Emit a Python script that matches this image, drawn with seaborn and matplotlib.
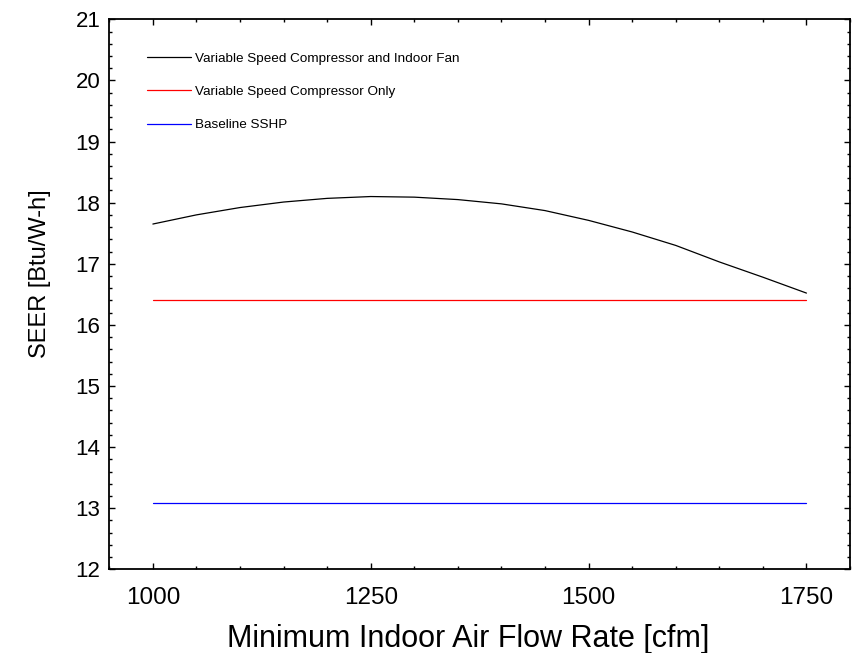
import matplotlib
matplotlib.use("Agg")
import matplotlib.pyplot as plt
from matplotlib.ticker import MultipleLocator
import seaborn as sns
import pandas as pd
import numpy as np

# ---- data ----
flow = [1000, 1050, 1100, 1150, 1200, 1250, 1300, 1350, 1400, 1450,
        1500, 1550, 1600, 1650, 1700, 1750]
seer_vs_fan = [17.65, 17.80, 17.92, 18.01, 18.07, 18.10, 18.09, 18.05, 17.98, 17.87,
               17.71, 17.52, 17.30, 17.03, 16.78, 16.52]
seer_vs_only = [16.41] * 16
seer_base = [13.08] * 16
series_names = ["Variable Speed Compressor and Indoor Fan",
                "Variable Speed Compressor Only",
                "Baseline SSHP"]
colors = ["#000000", "#ff0000", "#0000ff"]
xticks = [1000, 1250, 1500, 1750]
yticks = list(range(12, 22))

df = pd.DataFrame({
    "flow": flow * 3,
    "seer": seer_vs_fan + seer_vs_only + seer_base,
    "series": [series_names[0]] * 16 + [series_names[1]] * 16 + [series_names[2]] * 16,
})

sns.set_theme(style="white")
plt.rcParams["font.family"] = ["Liberation Sans", "DejaVu Sans"]
plt.rcParams["text.color"] = "black"
plt.rcParams["axes.labelcolor"] = "black"
plt.rcParams["xtick.color"] = "black"
plt.rcParams["ytick.color"] = "black"

fig = plt.figure(figsize=(8.58, 6.53), dpi=100)
ax = fig.add_axes([0.1274, 0.1282, 0.8633, 0.8422])

sns.lineplot(data=df, x="flow", y="seer", hue="series", hue_order=series_names,
             palette=dict(zip(series_names, colors)), linewidth=0.9, ax=ax,
             legend=True)

ax.set_xlim(950, 1800)
ax.set_ylim(12, 21)
ax.set_xticks(xticks)
ax.set_yticks(yticks)
ax.xaxis.set_minor_locator(MultipleLocator(50))
ax.yaxis.set_minor_locator(MultipleLocator(0.2))
ax.tick_params(which="both", direction="in", top=True, right=True, bottom=True, left=True,
               color="black", width=1.0, labelcolor="black")
ax.tick_params(which="major", length=4.3)
ax.tick_params(which="minor", length=2.5)
ax.tick_params(axis="x", which="major", labelsize=17.5, pad=12.5)
ax.tick_params(axis="y", which="major", labelsize=16, pad=6.5)
for s in ax.spines.values():
    s.set_color("black")
    s.set_linewidth(1.3)

ax.set_xlabel("Minimum Indoor Air Flow Rate [cfm]", fontsize=22, color="black")
ax.set_ylabel("SEER [Btu/W-h]", fontsize=17, color="black")
ax.xaxis.set_label_coords(0.484, -0.099)
ax.yaxis.set_label_coords(-0.079, 0.537)

leg = ax.legend(loc="upper left", bbox_to_anchor=(0.0507, 0.940), frameon=False,
                fontsize=9.7, handlelength=3.3, handletextpad=0.3,
                labelspacing=1.55, borderpad=0, borderaxespad=0)
for line in leg.get_lines():
    line.set_linewidth(0.9)
for t in leg.get_texts():
    t.set_color("black")

fig.savefig("out.png", dpi=100)
